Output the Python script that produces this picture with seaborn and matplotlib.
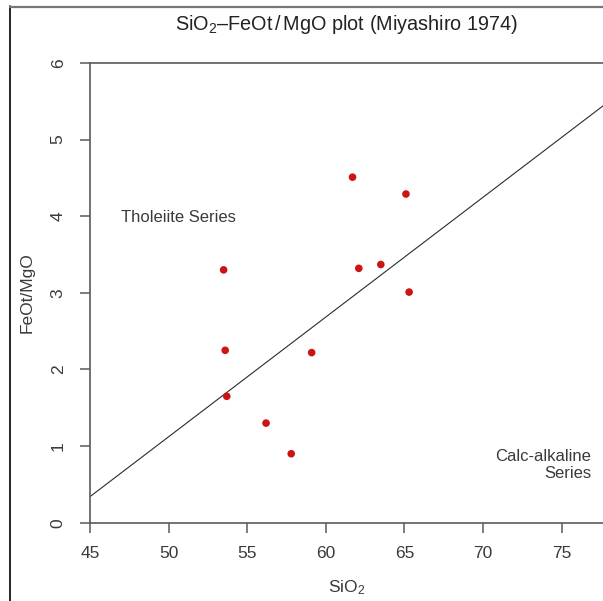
import matplotlib
matplotlib.use("Agg")
import matplotlib.pyplot as plt
from matplotlib.lines import Line2D
import seaborn as sns
import pandas as pd

# ---- data ----
sio2 = [61.7, 65.1, 53.5, 62.1, 63.5, 65.3, 53.6, 59.1, 53.7, 56.2, 57.8]
feot_mgo = [4.51, 4.29, 3.30, 3.32, 3.37, 3.01, 2.25, 2.22, 1.65, 1.30, 0.90]
boundary_sio2 = [45.0, 80.0]
boundary_ratio = [0.34, 5.81]
x_ticks = [45, 50, 55, 60, 65, 70, 75]
y_ticks = [0, 1, 2, 3, 4, 5, 6]

df = pd.DataFrame({"SiO2": sio2, "FeOt/MgO": feot_mgo})
line_df = pd.DataFrame({"SiO2": boundary_sio2, "FeOt/MgO": boundary_ratio})

sns.set_theme(style="ticks")
plt.rcParams["font.family"] = ["Liberation Sans", "DejaVu Sans"]
plt.rcParams["mathtext.fontset"] = "custom"
plt.rcParams["mathtext.rm"] = "Liberation Sans"
plt.rcParams["mathtext.it"] = "Liberation Sans:italic"

W, H = 603, 601
fig = plt.figure(figsize=(W / 100, H / 100), dpi=100)
ax_left, ax_right, ax_top, ax_bottom = 90, 603, 63, 522.7
ax = fig.add_axes([ax_left / W, 1 - ax_bottom / H, (ax_right - ax_left) / W, (ax_bottom - ax_top) / H])

axis_col = "#5a5a5a"
text_col = "#3a3a3a"

sns.lineplot(data=line_df, x="SiO2", y="FeOt/MgO", ax=ax, color="#2b2b2b", linewidth=0.8)
sns.scatterplot(data=df, x="SiO2", y="FeOt/MgO", ax=ax, color="#cc1414", s=30,
                edgecolor="none", zorder=3)

ax.set_xlim(45, 45 + (ax_right - ax_left) / 15.72)
ax.set_ylim(0, 6)
ax.set_xticks(x_ticks)
ax.set_yticks(y_ticks)

for side in ["left", "bottom", "top"]:
    ax.spines[side].set_color(axis_col)
    ax.spines[side].set_linewidth(1.2)
ax.spines["right"].set_visible(False)

ax.tick_params(axis="both", direction="out", length=7, width=1.1, color=axis_col,
               labelcolor=text_col, labelsize=12.5)
ax.tick_params(axis="x", pad=9.5)
ax.tick_params(axis="y", pad=10.5)
for lab in ax.get_yticklabels():
    lab.set_rotation(90)
    lab.set_va("center")

ax.set_xlabel(r"SiO$_2$", fontsize=12.5, color=text_col)
ax.xaxis.label.set_va("center")
ax.xaxis.set_label_coords(0.5, (ax_bottom - 588) / (ax_bottom - ax_top))
ax.set_ylabel("FeOt/MgO", fontsize=12.5, color=text_col)
ax.yaxis.label.set_va("center")
ax.yaxis.set_label_coords((27 - ax_left) / (ax_right - ax_left), 0.5)

ax.text(0.5, (ax_bottom - 25) / (ax_bottom - ax_top),
        r"SiO$_2$–FeOt$\,/\,$MgO plot (Miyashiro 1974)",
        transform=ax.transAxes, ha="center", va="center", fontsize=14.3, color="#222222")

ax.text(50.6, 3.98, "Tholeiite Series", ha="center", va="center", fontsize=12, color=text_col)
ax.text(76.9, 0.75, "Calc-alkaline\nSeries", ha="right", va="center", fontsize=12,
        color=text_col, linespacing=1.15, multialignment="right")

# outer frame lines of the screenshot
fig.add_artist(Line2D([10 / W, 10 / W], [0, 1 - 6 / H], color="black", linewidth=1.2))
fig.add_artist(Line2D([10 / W, 1], [1 - 6.5 / H, 1 - 6.5 / H], color="#777777", linewidth=1.6))

fig.savefig("out.png", dpi=100)
